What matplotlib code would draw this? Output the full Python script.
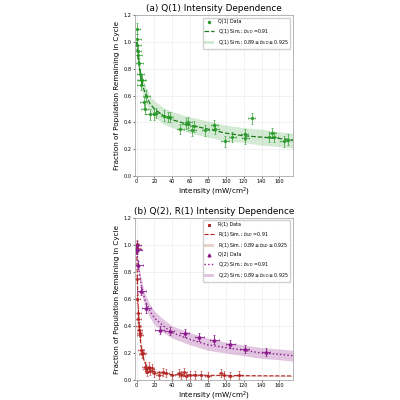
import numpy as np
import matplotlib
matplotlib.use('agg')
import matplotlib.pyplot as plt
from matplotlib.lines import Line2D

# Q(1) data
q1_x = [0, 0.5, 1, 1.5, 2, 3, 4, 5, 4.5, 6, 8, 9, 11, 15, 19, 22, 31, 35, 37, 49, 55, 58, 62, 64, 77, 87, 88, 99, 107, 121, 122, 129, 148, 152, 154, 165, 170]
q1_y = [1.1, 1.02, 0.98, 0.93, 0.9, 0.84, 0.76, 0.72, 0.68, 0.72, 0.55, 0.5, 0.6, 0.46, 0.46, 0.47, 0.45, 0.44, 0.44, 0.35, 0.39, 0.40, 0.34, 0.37, 0.34, 0.38, 0.35, 0.26, 0.29, 0.31, 0.28, 0.43, 0.29, 0.32, 0.29, 0.26, 0.27]
q1_sim_x = [0, 1, 2, 3, 5, 7, 10, 15, 20, 30, 40, 60, 80, 100, 120, 140, 160, 175]
q1_sim_y = [1.0, 0.92, 0.86, 0.81, 0.73, 0.67, 0.61, 0.54, 0.50, 0.45, 0.42, 0.38, 0.35, 0.32, 0.30, 0.29, 0.28, 0.27]
q1_lo = [0.98, 0.88, 0.81, 0.76, 0.67, 0.61, 0.55, 0.48, 0.44, 0.39, 0.36, 0.32, 0.29, 0.26, 0.25, 0.23, 0.22, 0.21]
q1_hi = [1.0, 0.95, 0.90, 0.85, 0.78, 0.73, 0.67, 0.60, 0.56, 0.51, 0.48, 0.44, 0.41, 0.38, 0.36, 0.35, 0.33, 0.32]

# Q(2) data
q2_x = [0, 0.5, 1, 2, 5, 11, 26, 37, 54, 70, 87, 105, 121, 145]
q2_y = [1.0, 0.97, 0.96, 0.85, 0.66, 0.53, 0.37, 0.36, 0.35, 0.32, 0.30, 0.27, 0.23, 0.21]
q2_sim_x = [0, 1, 2, 3, 5, 7, 10, 15, 20, 30, 40, 60, 80, 100, 120, 140, 160, 175]
q2_sim_y = [1.0, 0.90, 0.84, 0.79, 0.71, 0.65, 0.58, 0.51, 0.46, 0.40, 0.35, 0.30, 0.26, 0.24, 0.22, 0.20, 0.19, 0.18]
q2_lo = [0.98, 0.87, 0.80, 0.75, 0.66, 0.60, 0.53, 0.46, 0.41, 0.35, 0.31, 0.26, 0.22, 0.20, 0.18, 0.16, 0.15, 0.14]
q2_hi = [1.0, 0.93, 0.88, 0.83, 0.76, 0.70, 0.63, 0.56, 0.51, 0.45, 0.40, 0.35, 0.31, 0.28, 0.26, 0.24, 0.23, 0.22]

# R(1) data
r1_x = [0, 0.3, 0.6, 1, 1.5, 2, 2.5, 3, 3.5, 4, 5, 6, 7, 9, 10, 12, 14, 15, 17, 20, 25, 30, 33, 40, 48, 50, 53, 55, 60, 65, 72, 80, 95, 98, 105, 115]
r1_y = [1.01, 0.98, 0.75, 0.6, 0.5, 0.45, 0.4, 0.37, 0.35, 0.33, 0.22, 0.19, 0.2, 0.1, 0.08, 0.06, 0.1, 0.07, 0.09, 0.05, 0.04, 0.06, 0.05, 0.04, 0.05, 0.04, 0.06, 0.03, 0.04, 0.04, 0.04, 0.03, 0.05, 0.04, 0.03, 0.04]
r1_sim_x = [0, 0.5, 1, 2, 3, 5, 8, 12, 20, 40, 80, 120, 175]
r1_sim_y = [1.0, 0.85, 0.70, 0.50, 0.38, 0.25, 0.15, 0.09, 0.06, 0.04, 0.035, 0.032, 0.03]
r1_lo = [0.98, 0.82, 0.66, 0.46, 0.34, 0.22, 0.13, 0.08, 0.05, 0.035, 0.03, 0.028, 0.027]
r1_hi = [1.0, 0.88, 0.74, 0.54, 0.42, 0.28, 0.17, 0.10, 0.07, 0.045, 0.04, 0.036, 0.033]

fig = plt.figure(figsize=(4, 4), dpi=100)
ax1 = fig.add_axes([0.337, 0.56, 0.395, 0.402])
ax2 = fig.add_axes([0.337, 0.05, 0.395, 0.405])

def style(ax, title):
    ax.set_xlim(-2, 175)
    ax.set_ylim(0, 1.2)
    ax.grid(True, color='#e8e8e8', lw=0.4)
    ax.set_axisbelow(True)
    ax.set_xticks(range(0, 170, 20))
    ax.tick_params(labelsize=3.6, length=1.5, width=0.4, pad=1)
    for s in ax.spines.values():
        s.set_color('#aaaaaa'); s.set_linewidth(0.6)
    ax.set_xlabel('Intensity (mW/cm$^2$)', fontsize=5.2, labelpad=1)
    ax.set_ylabel('Fraction of Population Remaining in Cycle', fontsize=5.2, labelpad=2)
    ax.set_title(title, fontsize=6.4, pad=3)

g = '#2a9a2a'
ax1.fill_between(q1_sim_x, q1_lo, q1_hi, color=g, alpha=0.2, lw=0)
ax1.errorbar(q1_x, q1_y, xerr=4, yerr=0.04, fmt='o', ms=1.5, color=g, elinewidth=0.6,
             capsize=1, capthick=0.5, alpha=0.8)
ax1.plot(q1_sim_x, q1_sim_y, '--', color='#1a7a1a', lw=0.9)
h1 = [Line2D([], [], marker='o', ls='', ms=1.5, color=g),
      Line2D([], [], ls='--', color='#1a7a1a', lw=0.9),
      plt.Rectangle((0, 0), 1, 1, color=g, alpha=0.2, lw=0)]
l1 = ['Q(1) Data', 'Q(1) Sim.; $b_{UD}$ =0.91', r'Q(1) Sim.; $0.89 \leq b_{UD} \leq 0.925$']
ax1.legend(h1, l1, fontsize=3.4, loc='upper right', framealpha=0.9)
style(ax1, '(a) Q(1) Intensity Dependence')

r = '#b22222'; p = '#8b1a8b'
ax2.errorbar(r1_x, r1_y, xerr=3, yerr=0.03, fmt='s', ms=1.2, color=r, elinewidth=0.6,
             capsize=1, capthick=0.5, alpha=0.7)
ax2.plot(r1_sim_x, r1_sim_y, '--', color=r, lw=0.8)
ax2.fill_between(r1_sim_x, r1_lo, r1_hi, color='#a0522d', alpha=0.25, lw=0)
ax2.errorbar(q2_x, q2_y, xerr=5, yerr=0.03, fmt='^', ms=2, color=p, elinewidth=0.6,
             capsize=1, capthick=0.5)
ax2.plot(q2_sim_x, q2_sim_y, ':', color=p, lw=1.0)
ax2.fill_between(q2_sim_x, q2_lo, q2_hi, color=p, alpha=0.25, lw=0)
h2 = [Line2D([], [], marker='s', ls='', ms=1.2, color=r),
      Line2D([], [], ls='--', color=r, lw=0.8),
      plt.Rectangle((0, 0), 1, 1, color='#a0522d', alpha=0.25, lw=0),
      Line2D([], [], marker='^', ls='', ms=2, color=p),
      Line2D([], [], ls=':', color=p, lw=1.0),
      plt.Rectangle((0, 0), 1, 1, color=p, alpha=0.25, lw=0)]
l2 = ['R(1) Data', 'R(1) Sim.; $b_{UD}$ =0.91', r'R(1) Sim.; $0.89 \leq b_{UD} \leq 0.925$',
      'Q(2) Data', 'Q(2) Sim.; $b_{UD}$ =0.91', r'Q(2) Sim.; $0.89 \leq b_{UD} \leq 0.925$']
ax2.legend(h2, l2, fontsize=3.4, loc='upper right', framealpha=0.9)
style(ax2, '(b) Q(2), R(1) Intensity Dependence')

fig.savefig('out.png', dpi=100)
